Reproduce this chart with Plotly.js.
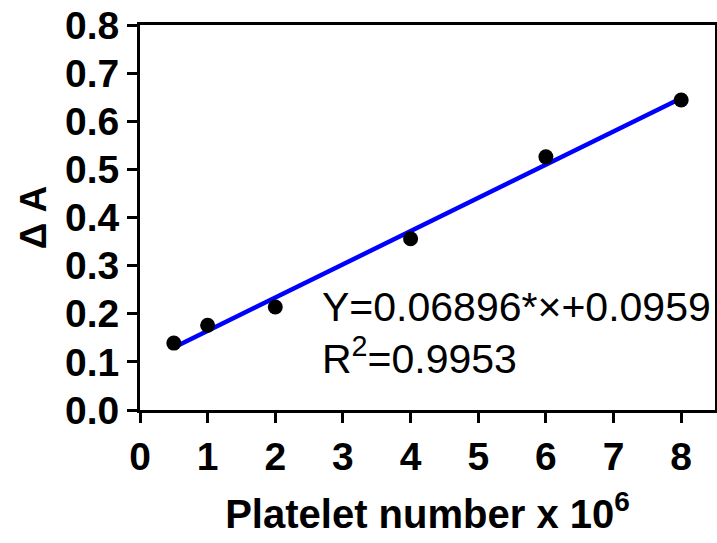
<!DOCTYPE html>
<html>
<head>
<meta charset="utf-8">
<script src="https://cdn.plot.ly/plotly-3.0.1.min.js"></script>
<style>
html,body{margin:0;padding:0;background:#fff;}
#chart{width:717px;height:543px;}
</style>
</head>
<body>
<div id="chart"></div>
<script>
// Data
var plateletX = [0.5, 1, 2, 4, 6, 8];
var deltaA = [0.139, 0.176, 0.214, 0.356, 0.526, 0.644];
var fitX = [0.5, 8];
var fitY = [0.130, 0.648];
var xTicks = [0, 1, 2, 3, 4, 5, 6, 7, 8];
var yTicks = [0, 0.1, 0.2, 0.3, 0.4, 0.5, 0.6, 0.7, 0.8];
var yTickText = ['0.0', '0.1', '0.2', '0.3', '0.4', '0.5', '0.6', '0.7', '0.8'];
var eqText = 'Y=0.06896*\u00d7+0.0959';
var r2Text = 'R<sup>2</sup>=0.9953';

var font = 'Liberation Sans, Arial, sans-serif';

var traces = [
  {
    x: fitX, y: fitY, mode: 'lines', type: 'scatter',
    line: {color: 'rgb(0,0,255)', width: 4.5},
    hoverinfo: 'skip', showlegend: false
  },
  {
    x: plateletX, y: deltaA, mode: 'markers', type: 'scatter',
    marker: {color: '#000', size: 15},
    showlegend: false
  }
];

var layout = {
  width: 717, height: 543,
  margin: {l: 140, r: 2, t: 25, b: 133},
  paper_bgcolor: '#fff', plot_bgcolor: '#fff',
  font: {family: font, color: '#000'},
  showlegend: false,
  xaxis: {
    range: [0, 8.5], tickvals: xTicks, ticktext: xTicks.map(String),
    showgrid: false, zeroline: false,
    showline: true, linecolor: '#000', linewidth: 3, mirror: true,
    ticks: 'outside', ticklen: 10, tickwidth: 3, tickcolor: '#000',
    tickfont: {family: font, size: 39, color: '#000', weight: 'bold'},
    title: {text: 'Platelet number x 10<sup>6</sup>', standoff: 24,
      font: {family: font, size: 40, color: '#000', weight: 'bold'}}
  },
  yaxis: {
    range: [0, 0.8], tickvals: yTicks, ticktext: yTickText,
    showgrid: false, zeroline: false,
    showline: true, linecolor: '#000', linewidth: 3, mirror: true,
    ticks: 'outside', ticklen: 10, tickwidth: 3, tickcolor: '#000',
    tickfont: {family: font, size: 39, color: '#000', weight: 'bold'},
    title: {text: '\u0394 A', standoff: 8,
      font: {family: font, size: 37, color: '#000', weight: 'bold'}}
  },
  annotations: [
    {x: 2.656, y: 0.213, xref: 'x', yref: 'y', xanchor: 'left', yanchor: 'middle',
     text: eqText, showarrow: false, font: {family: font, size: 41, color: '#000'}},
    {x: 2.656, y: 0.112, xref: 'x', yref: 'y', xanchor: 'left', yanchor: 'middle',
     text: r2Text, showarrow: false, font: {family: font, size: 41, color: '#000'}}
  ]
};

Plotly.newPlot('chart', traces, layout, {displayModeBar: false, staticPlot: true});
</script>
</body>
</html>
